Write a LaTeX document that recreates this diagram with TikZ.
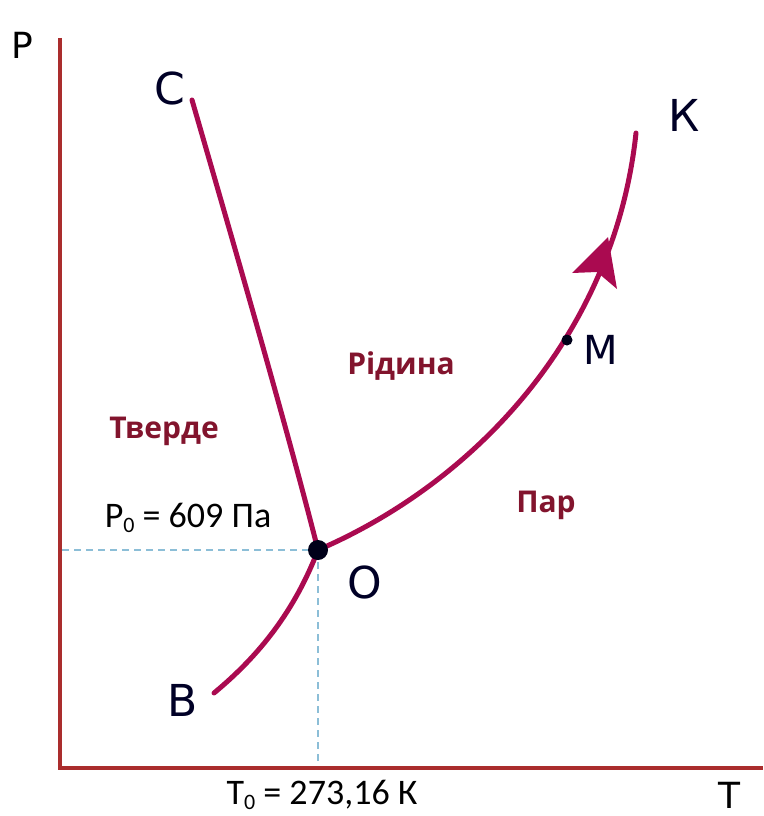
\documentclass[tikz,border=0pt]{standalone}
\usepackage{fontspec}
\setmainfont{Carlito}
\newfontfamily\lblfont{DejaVu Sans}
\newfontfamily\regfont{Open Sans}
\definecolor{axisred}{RGB}{170,45,45}
\definecolor{curvecol}{RGB}{170,10,80}
\definecolor{regioncol}{RGB}{130,20,45}
\definecolor{dashcol}{RGB}{140,190,215}
\newcommand{\lowsub}[1]{\raisebox{-0.3ex}{\fontsize{22}{22}\selectfont #1}}
\tikzset{
  axisline/.style={axisred, line width=4pt},
  curveline/.style={curvecol, line width=5pt, line cap=round},
  guide/.style={dashcol, line width=2pt, dash pattern=on 7pt off 5pt},
  pointlbl/.style={font=\lblfont\fontsize{44}{44}\selectfont, text=black!85!blue, inner sep=0pt},
  axislbl/.style={font=\lblfont\fontsize{36}{36}\selectfont, text=black, inner sep=0pt},
  regionlbl/.style={font=\regfont\bfseries\fontsize{30}{30}\selectfont, text=regioncol, inner sep=0pt},
  valuelbl/.style={font=\fontsize{36}{36}\selectfont, text=black, inner sep=0pt}
}
\begin{document}
\begin{tikzpicture}[x=1pt,y=-1pt]
\useasboundingbox (0,0) rectangle (763,816);
% guide lines
\coordinate (O) at (318,550);
\coordinate (Pax) at (62,550);
\coordinate (Tax) at (318,766);
\draw[guide] (Pax) -- (O);
\draw[guide] (O) -- (Tax);
% axes
\coordinate (ytop) at (60,38);
\coordinate (orig) at (60,768);
\coordinate (xend) at (763,768);
\draw[axisline] (ytop) -- (orig) -- (xend);
% curves
\coordinate (C) at (192,100);
\coordinate (B) at (214,693);
\coordinate (K) at (636,133);
\draw[curveline] (C) .. controls (250,300) and (290,440) .. (O);
\draw[curveline] (B) .. controls (260,655) and (295,610) .. (O);
\draw[curveline] (O) .. controls (480,480) and (615,330) .. (K);
% arrowhead
\coordinate (atip) at (608,237);
\coordinate (al) at (572,273);
\coordinate (ar) at (617,289);
\fill[curvecol] (atip) -- (al) -- (597,272) -- (ar) -- cycle;
% points
\fill[black!90!blue] (O) circle (10);
\coordinate (M) at (567,340);
\fill[black!90!blue] (M) circle (5.5);
% labels
\node[axislbl] (Plbl) at (22,45) {P};
\node[axislbl] (Tlbl) at (729,795) {T};
\node[pointlbl] (Clbl) at (170,88) {C};
\node[pointlbl] (Klbl) at (684,115) {К};
\node[pointlbl, font=\lblfont\fontsize{40}{40}\selectfont] (Mlbl) at (601,350) {M};
\node[pointlbl] (Blbl) at (183,700) {B};
\node[pointlbl] (Olbl) at (365,582) {O};
\node[regionlbl] (solid) at (164,431) {Тверде};
\node[regionlbl] (liquid) at (401,366) {Рідина};
\node[regionlbl] (vapor) at (546,505) {Пар};
\node[valuelbl] (P0) at (188,518) {P\lowsub{0} = 609 Па};
\node[valuelbl] (T0) at (322,795) {T\lowsub{0} = 273,16 К};
\end{tikzpicture}
\end{document}
